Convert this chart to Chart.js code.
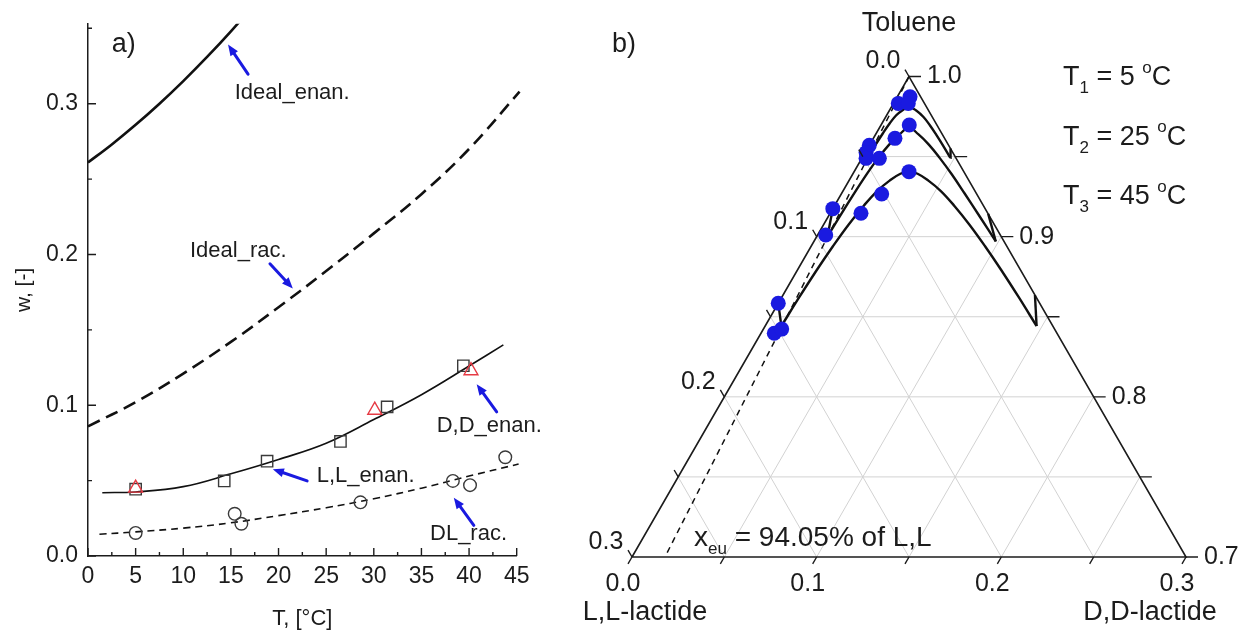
<!DOCTYPE html>
<html>
<head>
<meta charset="utf-8">
<script src="https://cdn.jsdelivr.net/npm/chart.js@4.4.1/dist/chart.umd.min.js"></script>
<style>
  html, body { margin: 0; padding: 0; background: #fff; }
  #wrap { position: relative; width: 1240px; height: 632px; }
  #solubility { position: absolute; left: 0; top: 0; }
  #ternary { position: absolute; left: 560px; top: 0; }
</style>
</head>
<body>
<div id="wrap">
  <canvas id="solubility" width="560" height="632"></canvas>
  <canvas id="ternary" width="680" height="632"></canvas>
</div>
<script>
// ---------- a) solubility (mass fraction) vs temperature ----------
const tempTicks = [0, 5, 10, 15, 20, 25, 30, 35, 40, 45];
const wTicks = [0.0, 0.1, 0.2, 0.3];

const llEnanT = [5.0, 14.3, 18.8, 26.5, 31.4, 39.4];
const llEnanW = [0.0443, 0.0498, 0.0629, 0.0760, 0.0989, 0.1262];
const ddEnanT = [5.0, 30.1, 40.2];
const ddEnanW = [0.0450, 0.0967, 0.1229];
const dlRacT = [5.0, 15.4, 16.1, 28.6, 38.3, 40.1, 43.8];
const dlRacW = [0.0153, 0.0280, 0.0214, 0.0356, 0.0498, 0.0470, 0.0655];

const idealEnanT = [0, 2.5, 5, 7.5, 10, 12.5, 15, 17.5];
const idealEnanW = [0.261, 0.273, 0.286, 0.300, 0.315, 0.331, 0.348, 0.366];
const idealRacT = [0, 5, 10, 15, 20, 25, 30, 35, 40, 45.3];
const idealRacW = [0.086, 0.102, 0.121, 0.142, 0.165, 0.189, 0.214, 0.240, 0.270, 0.308];
const llFitT = [1.5, 5, 10, 15, 20, 25, 30, 35, 40, 43.6];
const llFitW = [0.042, 0.0425, 0.0460, 0.0545, 0.0640, 0.0748, 0.0905, 0.107, 0.126, 0.140];
const dlFitT = [1.2, 5, 10, 15, 20, 25, 30, 35, 40, 45.2];
const dlFitW = [0.0144, 0.0160, 0.0185, 0.0220, 0.0268, 0.0320, 0.0380, 0.0450, 0.0530, 0.0610];

// ---------- b) ternary L,L-lactide / D,D-lactide / toluene ----------
const ternTicks = [0.0, 0.1, 0.2, 0.3];
const isoTemps = [5, 25, 45];
const xEu = 0.9405;

// measured solid-liquid equilibrium points (mass fractions)
const expLL = [0.0058, 0.0142, 0.0088, 0.0150, 0.0269, 0.0430, 0.0470, 0.0488, 0.0416, 0.0297, 0.0515, 0.0687, 0.0825, 0.0946, 0.1416, 0.1531, 0.1478];
const expDD = [0.0069, 0.0026, 0.0080, 0.0153, 0.0117, 0.0000, 0.0005, 0.0023, 0.0095, 0.0297, 0.0219, 0.0167, 0.0000, 0.0044, 0.0000, 0.0072, 0.0099];

// racemic compound branches, eutectic to eutectic
const t1LL = [0.0478, 0.0400, 0.0320, 0.0250, 0.0190, 0.0140, 0.0095, 0.0065, 0.0048, 0.0039, 0.0034, 0.0031, 0.0030];
const t1DD = [0.0030, 0.0032, 0.0036, 0.0042, 0.0052, 0.0070, 0.0095, 0.0150, 0.0205, 0.0265, 0.0330, 0.0400, 0.0478];
const t2LL = [0.0942, 0.0800, 0.0660, 0.0530, 0.0420, 0.0320, 0.0230, 0.0160, 0.0130, 0.0105, 0.0088, 0.0074, 0.0064, 0.0054, 0.0045];
const t2DD = [0.0058, 0.0062, 0.0068, 0.0076, 0.0088, 0.0105, 0.0130, 0.0160, 0.0230, 0.0320, 0.0420, 0.0535, 0.0665, 0.0820, 0.0985];
const t3LL = [0.1470, 0.1280, 0.1100, 0.0940, 0.0790, 0.0650, 0.0530, 0.0430, 0.0350, 0.0297, 0.0257, 0.0220, 0.0185, 0.0158, 0.0135, 0.0118, 0.0105, 0.0095, 0.0088];
const t3DD = [0.0088, 0.0095, 0.0105, 0.0118, 0.0135, 0.0158, 0.0185, 0.0220, 0.0257, 0.0297, 0.0350, 0.0430, 0.0530, 0.0650, 0.0790, 0.0940, 0.1100, 0.1280, 0.1470];
// pure enantiomer solubility on the binary edges (T1, T2, T3)
const edgeLL = [0.0430, 0.0825, 0.1416];
const edgeDD = [0.0450, 0.0858, 0.1364];

const FONT = '"Liberation Sans", Arial, Helvetica, sans-serif';
const INK = '#1c1c1c';
const BLUE = '#1a1ae0';
Chart.defaults.font.family = FONT;
Chart.defaults.color = INK;

const pts = (xs, ys) => xs.map((x, i) => ({ x: x, y: ys[i] }));

function richText(ctx, x, y, parts, size, align) {
  const fontFor = p => (p[1] ? Math.round(size * 0.62) : size) + 'px ' + FONT;
  let w = 0;
  parts.forEach(p => { ctx.font = fontFor(p); w += ctx.measureText(p[0]).width; });
  let cx = align === 'center' ? x - w / 2 : x;
  ctx.textAlign = 'left';
  ctx.textBaseline = 'middle';
  parts.forEach(p => {
    ctx.font = fontFor(p);
    const dy = p[1] === 'sub' ? size * 0.4 : p[1] === 'sup' ? -size * 0.36 : 0;
    ctx.fillText(p[0], cx, y + dy);
    cx += ctx.measureText(p[0]).width;
  });
}

function arrow(ctx, x0, y0, x1, y1) {
  const a = Math.atan2(y1 - y0, x1 - x0);
  const c = Math.cos(a), s = Math.sin(a);
  const head = 11, half = 4.5;
  ctx.beginPath();
  ctx.moveTo(x0, y0);
  ctx.lineTo(x1 - c * head * 0.8, y1 - s * head * 0.8);
  ctx.stroke();
  ctx.beginPath();
  ctx.moveTo(x1, y1);
  ctx.lineTo(x1 - c * head - s * half, y1 - s * head + c * half);
  ctx.lineTo(x1 - c * head + s * half, y1 - s * head - c * half);
  ctx.closePath();
  ctx.fill();
}

// labels with pointer arrows, in data units
const notes = [
  { text: 'Ideal_enan.', at: [15.4, 0.307], tail: [16.8, 0.3196], tip: [14.7, 0.3392] },
  { text: 'Ideal_rac.', at: [10.7, 0.2024], tail: [19.1, 0.1938], tip: [21.5, 0.1775] },
  { text: 'L,L_enan.', at: [24.0, 0.0530], tail: [23.0, 0.0498], tip: [19.4, 0.0576] },
  { text: 'D,D_enan.', at: [36.6, 0.0864], tail: [42.9, 0.0956], tip: [40.8, 0.1139] },
  { text: 'DL_rac.', at: [35.9, 0.0144], tail: [40.5, 0.0203], tip: [38.4, 0.0386] }
];

const solubilityMarks = {
  id: 'solubilityMarks',
  afterDraw(chart) {
    const { ctx, chartArea: area, scales: { x, y } } = chart;
    ctx.save();
    // inward tick marks, majors and halfway minors
    ctx.strokeStyle = INK;
    ctx.lineWidth = 1.4;
    ctx.beginPath();
    tempTicks.forEach((t, i) => {
      const px = x.getPixelForValue(t);
      ctx.moveTo(px, area.bottom); ctx.lineTo(px, area.bottom - 8);
      if (i < tempTicks.length - 1) {
        const pm = x.getPixelForValue((t + tempTicks[i + 1]) / 2);
        ctx.moveTo(pm, area.bottom); ctx.lineTo(pm, area.bottom - 4);
      }
    });
    wTicks.forEach(v => {
      const py = y.getPixelForValue(v);
      ctx.moveTo(area.left, py); ctx.lineTo(area.left + 8, py);
      const pm = y.getPixelForValue(v + 0.05);
      ctx.moveTo(area.left, pm); ctx.lineTo(area.left + 4, pm);
    });
    ctx.stroke();

    ctx.fillStyle = INK;
    ctx.textAlign = 'left';
    ctx.textBaseline = 'middle';
    ctx.font = '27px ' + FONT;
    ctx.fillText('a)', x.getPixelForValue(2.5), y.getPixelForValue(0.339));

    ctx.font = '22px ' + FONT;
    notes.forEach(n => ctx.fillText(n.text, x.getPixelForValue(n.at[0]), y.getPixelForValue(n.at[1])));

    ctx.strokeStyle = BLUE;
    ctx.fillStyle = BLUE;
    ctx.lineWidth = 3;
    ctx.lineCap = 'round';
    notes.forEach(n => arrow(ctx,
      x.getPixelForValue(n.tail[0]), y.getPixelForValue(n.tail[1]),
      x.getPixelForValue(n.tip[0]), y.getPixelForValue(n.tip[1])));
    ctx.restore();
  }
};

new Chart(document.getElementById('solubility'), {
  type: 'scatter',
  data: {
    datasets: [
      { label: 'D,D_enan.', data: pts(ddEnanT, ddEnanW), pointStyle: 'triangle', pointRadius: 8,
        borderColor: '#e63a44', borderWidth: 1.4, backgroundColor: 'rgba(0,0,0,0)' },
      { label: 'L,L_enan.', data: pts(llEnanT, llEnanW), pointStyle: 'rect', pointRadius: 8,
        borderColor: '#3a3a3a', borderWidth: 1.4, backgroundColor: 'rgba(0,0,0,0)' },
      { label: 'DL_rac.', data: pts(dlRacT, dlRacW), pointStyle: 'circle', pointRadius: 6.3,
        borderColor: '#3a3a3a', borderWidth: 1.4, backgroundColor: 'rgba(0,0,0,0)' },
      { label: 'L,L fit', data: pts(llFitT, llFitW), showLine: true, pointRadius: 0,
        borderColor: '#111', borderWidth: 1.6, tension: 0.4 },
      { label: 'DL fit', data: pts(dlFitT, dlFitW), showLine: true, pointRadius: 0,
        borderColor: '#111', borderWidth: 1.6, borderDash: [7, 5], tension: 0.4, clip: false },
      { label: 'Ideal_enan.', data: pts(idealEnanT, idealEnanW), showLine: true, pointRadius: 0,
        borderColor: '#111', borderWidth: 2.6, tension: 0.4 },
      { label: 'Ideal_rac.', data: pts(idealRacT, idealRacW), showLine: true, pointRadius: 0,
        borderColor: '#111', borderWidth: 2.6, borderDash: [13, 7], tension: 0.4, clip: false }
    ]
  },
  options: {
    responsive: false,
    animation: false,
    events: [],
    layout: { padding: { left: 0, top: 17, right: 43.3, bottom: 0 } },
    plugins: { legend: { display: false }, tooltip: { enabled: false } },
    scales: {
      x: {
        type: 'linear', min: 0, max: 45,
        afterBuildTicks: s => { s.ticks = tempTicks.map(v => ({ value: v })); },
        afterFit: s => { s.height = 76; },
        grid: { display: false, drawTicks: false },
        border: { display: true, color: INK, width: 1.5 },
        ticks: { padding: 7, font: { size: 23 }, color: INK, maxRotation: 0, autoSkip: false },
        title: { display: true, text: 'T, [°C]', font: { size: 22 }, color: INK, padding: { top: 0, bottom: 0 } }
      },
      y: {
        type: 'linear', min: 0, max: 0.353,
        afterBuildTicks: s => { s.ticks = wTicks.map(v => ({ value: v })); },
        afterFit: s => { s.width = 88; },
        grid: { display: false, drawTicks: false },
        border: { display: true, color: INK, width: 1.5 },
        ticks: { padding: 10, font: { size: 23 }, color: INK, callback: v => v.toFixed(1) },
        title: { display: true, text: 'w, [-]', font: { size: 21 }, color: INK, padding: { top: 12, bottom: 0 } }
      }
    }
  },
  plugins: [solubilityMarks]
});

// ---------- ternary helpers ----------
const SPAN = 0.3;               // lactide range shown on each side
const H = Math.sqrt(3) / 2;
function tern(ll, dd) {
  const u = dd / SPAN, v = 1 - (ll + dd) / SPAN;
  return { x: u + v / 2, y: v * H };
}

const ternaryFrame = {
  id: 'ternaryFrame',
  beforeDatasetsDraw(chart) {
    const { ctx, scales: { x, y } } = chart;
    const P = (ll, dd) => { const q = tern(ll, dd); return [x.getPixelForValue(q.x), y.getPixelForValue(q.y)]; };
    const seg = (a, b) => { ctx.moveTo(a[0], a[1]); ctx.lineTo(b[0], b[1]); };
    ctx.save();
    ctx.strokeStyle = '#d2d2d2';
    ctx.lineWidth = 1;
    ctx.beginPath();
    for (let k = 1; k < 6; k++) {
      const g = k * 0.05;
      seg(P(g, 0), P(0, g));          // constant toluene
      seg(P(0, g), P(SPAN - g, g));   // constant D,D-lactide
      seg(P(g, 0), P(g, SPAN - g));   // constant L,L-lactide
    }
    ctx.stroke();

    ctx.strokeStyle = INK;
    ctx.lineWidth = 1.6;
    ctx.beginPath();
    const a = P(0, 0), b = P(SPAN, 0), c = P(0, SPAN);
    ctx.moveTo(a[0], a[1]); ctx.lineTo(b[0], b[1]); ctx.lineTo(c[0], c[1]); ctx.closePath();
    ctx.stroke();
    ctx.restore();
  },
  afterDraw(chart) {
    const { ctx, scales: { x, y } } = chart;
    const P = (ll, dd) => { const q = tern(ll, dd); return [x.getPixelForValue(q.x), y.getPixelForValue(q.y)]; };
    ctx.save();
    ctx.strokeStyle = INK;
    ctx.lineWidth = 1.4;
    ctx.beginPath();
    const len = 8;
    for (let k = 0; k <= 6; k++) {
      const v = k * 0.05;
      let p = P(SPAN - v, v);                      // bottom: D,D-lactide
      ctx.moveTo(p[0], p[1]); ctx.lineTo(p[0] - 0.5 * len, p[1] + H * len);
      p = P(v, 0);                                  // left: L,L-lactide
      ctx.moveTo(p[0], p[1]); ctx.lineTo(p[0] - 0.5 * len, p[1] - H * len);
      p = P(0, v);                                  // right: toluene
      ctx.moveTo(p[0], p[1]); ctx.lineTo(p[0] + len + 4, p[1]);
    }
    ctx.stroke();

    ctx.fillStyle = INK;
    ctx.font = '25px ' + FONT;
    ctx.textBaseline = 'middle';
    ternTicks.forEach(v => {
      let p = P(SPAN - v, v);
      ctx.textAlign = 'center';
      ctx.fillText(v.toFixed(1), p[0] - 9, p[1] + 27);
      p = P(v, 0);
      ctx.fillText(v.toFixed(1), p[0] - 26, p[1] - 15);
      p = P(0, v);
      ctx.textAlign = 'left';
      ctx.fillText((1 - v).toFixed(1), p[0] + 18, p[1]);
    });

    ctx.font = '27px ' + FONT;
    ctx.textAlign = 'center';
    const top = P(0, 0), left = P(SPAN, 0), right = P(0, SPAN);
    ctx.fillText('Toluene', top[0], top[1] - 53);
    ctx.fillText('L,L-lactide', left[0] + 13, left[1] + 56);
    ctx.fillText('D,D-lactide', right[0] - 36, right[1] + 56);
    ctx.textAlign = 'left';
    ctx.fillText('b)', left[0] - 20, 45);

    isoTemps.forEach((t, i) => {
      richText(ctx, right[0] - 123, 78 + i * 59.5,
        [['T'], [String(i + 1), 'sub'], [' = ' + t + ' '], ['o', 'sup'], ['C']], 27, 'left');
    });
    richText(ctx, left[0] + 62, 538,
      [['x'], ['eu', 'sub'], [' = ' + (xEu * 100).toFixed(2) + '% of L,L']], 28, 'left');
    ctx.restore();
  }
};

const curve = (data, extra) => Object.assign({
  data: data, showLine: true, pointRadius: 0, borderColor: '#111',
  borderWidth: 2.4, fill: false, clip: false, tension: 0
}, extra || {});

const ternSets = [
  { label: 'exp', data: expLL.map((v, i) => tern(v, expDD[i])), pointRadius: 7.5,
    backgroundColor: BLUE, borderColor: BLUE, borderWidth: 0, clip: false }
];
[[t1LL, t1DD], [t2LL, t2DD], [t3LL, t3DD]].forEach((br, i) => {
  const ll = br[0], dd = br[1], n = ll.length - 1;
  ternSets.push(curve(ll.map((v, k) => tern(v, dd[k])), { tension: 0.4 }));
  ternSets.push(curve([tern(ll[0], dd[0]), tern(edgeLL[i], 0)]));
  ternSets.push(curve([tern(ll[n], dd[n]), tern(0, edgeDD[i])]));
});
// eutectic composition line from the toluene corner
ternSets.push(curve([tern(0, 0), tern(SPAN * xEu, SPAN * (1 - xEu))],
  { borderWidth: 1.5, borderDash: [6, 5] }));

new Chart(document.getElementById('ternary'), {
  type: 'scatter',
  data: { datasets: ternSets },
  options: {
    responsive: false,
    animation: false,
    events: [],
    layout: { padding: { left: 72, right: 54, top: 76.5, bottom: 75 } },
    plugins: { legend: { display: false }, tooltip: { enabled: false } },
    scales: {
      x: { type: 'linear', min: 0, max: 1, display: false },
      y: { type: 'linear', min: 0, max: H, display: false }
    }
  },
  plugins: [ternaryFrame]
});
</script>
</body>
</html>
